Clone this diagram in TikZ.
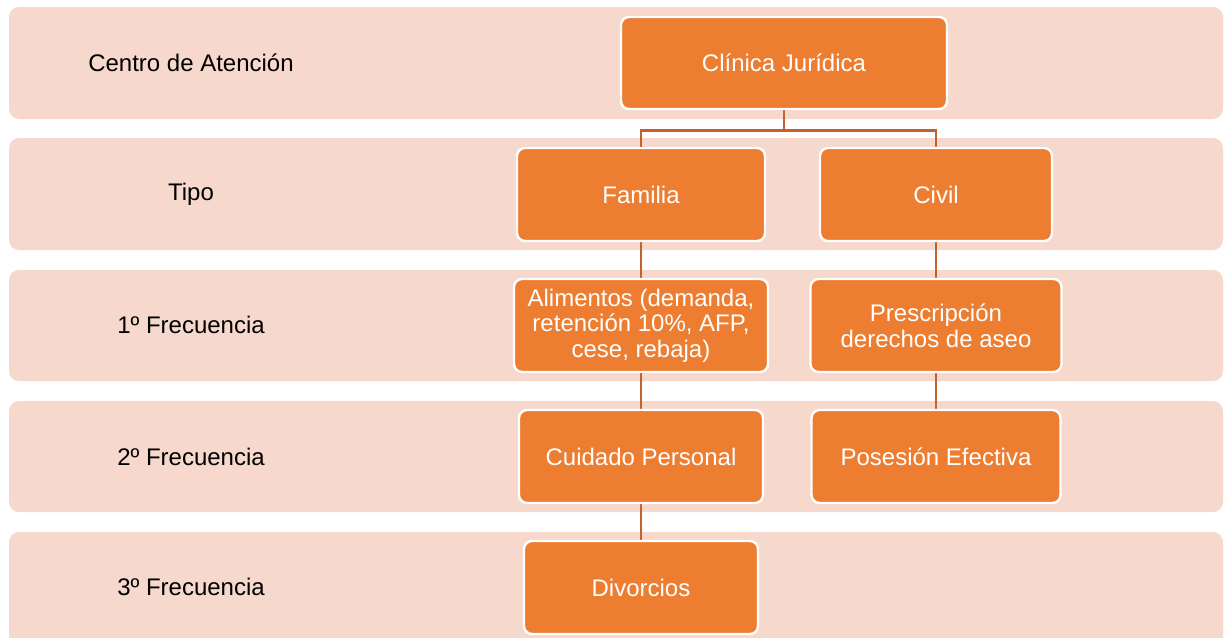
\documentclass[tikz,border=0pt]{standalone}
\usepackage{fontspec}
\setmainfont{Liberation Sans}
\definecolor{bandc}{HTML}{F7D8CD}
\definecolor{boxc}{HTML}{ED7D31}
\definecolor{linec}{HTML}{C4622D}
\pgfdeclarelayer{bands}
\pgfdeclarelayer{conn}
\pgfsetlayers{bands,conn,main}
\tikzset{
  band/.style={fill=bandc, rounded corners=5pt},
  lbl/.style={text=black, font=\fontsize{12}{13}\selectfont, anchor=center},
  obox/.style={draw=white, line width=1.2pt, fill=boxc, rounded corners=4pt,
    text=white, align=center, inner sep=2pt,
    font=\fontsize{12}{12.8}\selectfont},
  conline/.style={draw=linec, line width=1.3pt}
}
\begin{document}
\begin{tikzpicture}[x=0.5pt,y=-0.5pt]
\clip (0,0) rectangle (1225,637);
\begin{pgfonlayer}{bands}
\fill[band] (9,7) rectangle (1223,119);
\fill[band] (9,138) rectangle (1223,250);
\fill[band] (9,270) rectangle (1223,381);
\fill[band] (9,401) rectangle (1223,512);
\fill[band] (9,532) rectangle (1223,660);
\end{pgfonlayer}
\node[lbl] (l1) at (191,63) {Centro de Atención};
\node[lbl] (l2) at (191,194) {Tipo};
\node[lbl] (l3) at (191,325) {1º Frecuencia};
\node[lbl] (l4) at (191,457) {2º Frecuencia};
\node[lbl] (l5) at (191,587) {3º Frecuencia};

\node[obox, minimum width=163pt, minimum height=46pt] (clin) at (784,63) {Clínica Jurídica};
\node[obox, minimum width=124pt, minimum height=46.5pt] (fam) at (641,194.5) {Familia};
\node[obox, minimum width=116pt, minimum height=46.5pt] (civ) at (936,194.5) {Civil};
\node[obox, minimum width=127pt, minimum height=46.5pt] (ali) at (641,325.5) {Alimentos (demanda,\\retención 10\%, AFP,\\cese, rebaja)};
\node[obox, minimum width=125.5pt, minimum height=46.5pt] (pre) at (936,325.5) {Prescripción\\derechos de aseo};
\node[obox, minimum width=122pt, minimum height=46.5pt] (cui) at (641,456.5) {Cuidado Personal};
\node[obox, minimum width=124.5pt, minimum height=46.5pt] (pos) at (936,456.5) {Posesión Efectiva};
\node[obox, minimum width=117pt, minimum height=46.5pt] (div) at (641,587.5) {Divorcios};

\begin{pgfonlayer}{conn}
\draw[conline] (clin.south) -- ++(0,20) coordinate (jn) -| (fam.north);
\draw[conline] (jn) -| (civ.north);
\draw[conline] (fam.south) -- (ali.north);
\draw[conline] (civ.south) -- (pre.north);
\draw[conline] (ali.south) -- (cui.north);
\draw[conline] (pre.south) -- (pos.north);
\draw[conline] (cui.south) -- (div.north);
\end{pgfonlayer}
\end{tikzpicture}
\end{document}
